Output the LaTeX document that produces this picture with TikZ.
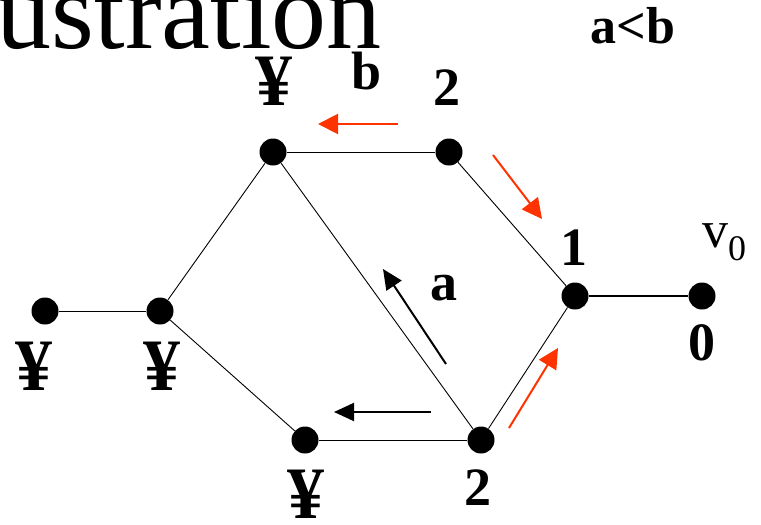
\documentclass[tikz,border=0pt]{standalone}
\usepackage{fontspec}
\setmainfont{Liberation Serif}
\usetikzlibrary{arrows.meta}
\definecolor{arrred}{HTML}{FF3300}
\begin{document}
\begin{tikzpicture}[x=1pt,y=-1pt,
  vert/.style={circle,fill=black,inner sep=0pt,minimum size=27pt},
  edge/.style={line width=0.9pt,black},
  lbl/.style={inner sep=0pt,anchor=base,font=\fontsize{54}{54}\selectfont\bfseries},
  inflbl/.style={inner sep=0pt,anchor=base,font=\fontsize{74}{74}\selectfont\bfseries},
  redarr/.style={arrred,line width=2pt,-{Triangle[length=20pt,width=20pt]}},
  blkarr/.style={black,line width=2pt,-{Triangle[length=20pt,width=18pt]}}]
\useasboundingbox (0,0) rectangle (761,525);
% title fragment
\node[inner sep=0pt,anchor=base east,font=\fontsize{110}{110}\selectfont] (title) at (382,48) {ustration};
\node[inner sep=0pt,anchor=base,font=\fontsize{52}{52}\selectfont\bfseries] (cond) at (633,43) {a<b};
% vertices
\node[vert] (A) at (273,152) {};
\node[vert] (B) at (449,152) {};
\node[vert] (C) at (575,296) {};
\node[vert] (D) at (702,296) {};
\node[vert] (E) at (481,440) {};
\node[vert] (F) at (305,440) {};
\node[vert] (G) at (160,311) {};
\node[vert] (H) at (45,311) {};
% edges
\draw[edge] (H) -- (G);
\draw[edge] (G) -- (A);
\draw[edge] (G) -- (F);
\draw[edge] (A) -- (B);
\draw[edge] (A) -- (E);
\draw[edge] (B) -- (C);
\draw[edge] (C) -- (E);
\draw[edge] (E) -- (F);
\draw[line width=1.4pt] (C) -- (D);
% labels
\node[inflbl] (lA) at (274,105) {¥};
\node[lbl] (lb) at (367,89) {b};
\node[lbl] (lB) at (447,105) {2};
\node[lbl] (lC) at (574,265) {1};
\node[inner sep=0pt,anchor=base west,font=\fontsize{52}{52}\selectfont] (lv) at (702,247) {v\raisebox{-13pt}{\fontsize{36}{36}\selectfont 0}};
\node[lbl] (lD) at (702,360) {0};
\node[lbl] (la) at (444,300) {a};
\node[inflbl] (lH) at (34,390) {¥};
\node[inflbl] (lG) at (162,390) {¥};
\node[inflbl] (lF) at (306,518) {¥};
\node[lbl] (lE) at (478,505) {2};
% arrows
\coordinate (r1s) at (398,124); \coordinate (r1e) at (318,124);
\coordinate (r2s) at (493,155); \coordinate (r2e) at (542,219);
\coordinate (r3s) at (509,428); \coordinate (r3e) at (558,348);
\coordinate (k1s) at (446,364); \coordinate (k1e) at (383,269);
\coordinate (k2s) at (431,412); \coordinate (k2e) at (334,412);
\draw[redarr] (r1s) -- (r1e);
\draw[redarr] (r2s) -- (r2e);
\draw[redarr] (r3s) -- (r3e);
\draw[blkarr] (k1s) -- (k1e);
\draw[blkarr] (k2s) -- (k2e);
\end{tikzpicture}
\end{document}
